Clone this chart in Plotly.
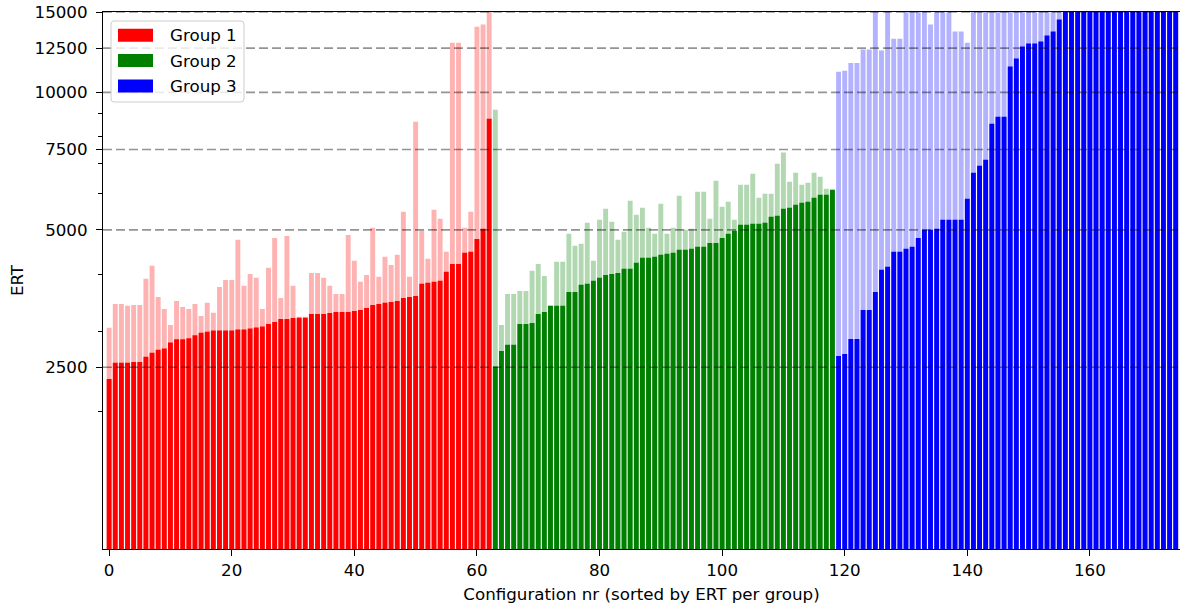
import math
import plotly.graph_objects as go

# ERT of each configuration (solid bars) and the upper spread value (pale bars),
# configurations sorted by ERT within each group.
group1_ert = [2357, 2559, 2559, 2559, 2568, 2568, 2638, 2692, 2733, 2750,
              2833, 2880, 2880, 2895, 2940, 2975, 2990, 3008, 3008, 3008,
              3008, 3026, 3026, 3040, 3055, 3070, 3110, 3140, 3190, 3190,
              3206, 3210, 3210, 3270, 3270, 3270, 3287, 3303, 3303, 3303,
              3320, 3337, 3370, 3425, 3440, 3460, 3477, 3494, 3547, 3565,
              3583, 3810, 3830, 3847, 3866, 4046, 4210, 4210, 4453, 4475,
              4777, 5025, 8758]
group1_upper = [3050, 3442, 3442, 3408, 3425, 3425, 3905, 4170, 3565, 3356,
                3095, 3494, 3390, 3356, 3442, 3240, 3460, 3290, 3750, 3885,
                3885, 4754, 3770, 4000, 3925, 3356, 4128, 4800, 3547, 4850,
                3770, 3225, 3225, 4020, 4020, 3925, 3770, 3620, 3620, 4870,
                4277, 3847, 3983, 5051, 3945, 4365, 4190, 4410, 5477, 3945,
                8627, 4975, 4320, 5532, 5287, 4475, 12853, 12853, 5051, 5477,
                13933, 14080, 16500]

group2_ert = [2510, 2715, 2800, 2800, 3110, 3110, 3125, 3272, 3305, 3408,
              3408, 3408, 3657, 3657, 3790, 3810, 3866, 3925, 3983, 4004,
              4024, 4108, 4108, 4235, 4342, 4342, 4365, 4410, 4430, 4453,
              4520, 4520, 4543, 4590, 4590, 4680, 4680, 4800, 4900, 4975,
              5130, 5130, 5155, 5155, 5180, 5340, 5368, 5560, 5587, 5672,
              5730, 5760, 5880, 5970, 5970, 6120]
group2_upper = [9165, 3095, 3620, 3620, 3675, 3675, 4066, 4210, 3964, 3408,
                4255, 4255, 4900, 4612, 4660, 5180, 4277, 5260, 5560, 5207,
                4754, 4950, 5790, 5395, 5587, 5051, 4900, 5700, 4900, 5051,
                5940, 5000, 5025, 6060, 6060, 5287, 6405, 5615, 5760, 5260,
                6280, 6280, 6635, 5880, 6000, 6000, 6980, 7390, 6370, 6670,
                6280, 6340, 6670, 6535, 6150, 6120]

group3_ert = [2648, 2675, 2885, 2885, 3339, 3339, 3657, 4087, 4150, 4475,
              4475, 4543, 4590, 4800, 5000, 5000, 5025, 5260, 5260, 5260,
              5260, 5850, 6670, 6910, 7120, 8540, 8850, 8850, 11390, 11860,
              12600, 12790, 12790, 12920, 13320, 13590, 14435, 15200, 15400, 15600,
              15900, 16200, 16500, 16900, 17300, 17800, 18300, 18900, 19600, 20400,
              21300, 22400, 23800, 25500, 27800, 31000]
group3_upper = [11100, 11160, 11600, 11600, 12410, 12410, 15800, 12350, 15900, 13115,
                13115, 16100, 16300, 16600, 16800, 14080, 17000, 17200, 17500, 13590,
                13590, 12850, 17800, 18100, 18400, 18800, 19200, 19600, 20000, 20500,
                21000, 21500, 22000, 22600, 23200, 23800, 24500, 25200, 26000, 26800,
                27600, 28500, 29400, 30400, 31400, 32500, 33600, 34800, 36000, 37300,
                38700, 40200, 41800, 43500, 45300, 47200]

group_names = ["Group 1", "Group 2", "Group 3"]
solid_colors = ["#ff0000", "#008000", "#0000ff"]
pale_colors = ["rgb(255,178,178)", "rgb(178,216,178)", "rgb(178,178,255)"]

y_major = [2500, 5000, 7500, 10000, 12500, 15000]
y_minor = [2000, 3000, 4000, 6000, 7000, 8000, 9000]
x_ticks = [0, 20, 40, 60, 80, 100, 120, 140, 160]
x_range = [-1, 174.7]

groups_ert = [group1_ert, group2_ert, group3_ert]
groups_upper = [group1_upper, group2_upper, group3_upper]

# consecutive configuration numbers across the three groups
positions = []
start = 0
for vals in groups_ert:
    positions.append(list(range(start, start + len(vals))))
    start += len(vals)

FONT = "DejaVu Sans"
FS = 16.7

fig = go.Figure()
for xs, up, c in zip(positions, groups_upper, pale_colors):
    fig.add_trace(go.Bar(x=xs, y=up, width=0.8, marker=dict(color=c, line=dict(width=0)),
                         showlegend=False, hoverinfo="x+y"))
for xs, ert, c, name in zip(positions, groups_ert, solid_colors, group_names):
    fig.add_trace(go.Bar(x=xs, y=ert, width=0.8, name=name,
                         marker=dict(color=c, line=dict(width=0)),
                         showlegend=False, hoverinfo="x+y"))

# dashed reference lines at the labelled ERT levels, drawn over the bars
for v in y_major:
    fig.add_trace(go.Scatter(x=x_range, y=[v, v], mode="lines", showlegend=False,
                             hoverinfo="skip", cliponaxis=True,
                             line=dict(color="rgba(0,0,0,0.42)", width=1.6, dash="9px,4px")))

# legend box (rounded frame, wide colour patches)
PL, PT, PW, PH = 103, 12, 1077, 537


def to_paper(px, py):
    return (px - PL) / PW, (PT + PH - py) / PH


def rounded_rect(x0, y0, x1, y1, r):
    pts = [("M", (x0 + r, y0)), ("L", (x1 - r, y0)), ("Q", (x1, y0), (x1, y0 + r)),
           ("L", (x1, y1 - r)), ("Q", (x1, y1), (x1 - r, y1)), ("L", (x0 + r, y1)),
           ("Q", (x0, y1), (x0, y1 - r)), ("L", (x0, y0 + r)), ("Q", (x0, y0), (x0 + r, y0))]
    parts = []
    for item in pts:
        cmd = item[0]
        coords = []
        for (px, py) in item[1:]:
            a, b = to_paper(px, py)
            coords.append(f"{a:.5f},{b:.5f}")
        parts.append(cmd + " ".join(coords))
    return " ".join(parts) + " Z"


shapes = [dict(type="path", xref="paper", yref="paper", layer="above",
               path=rounded_rect(111, 21, 244, 102, 3),
               fillcolor="rgba(255,255,255,0.8)", line=dict(color="#cccccc", width=1))]

annotations = []
row_centers = [35.3, 60.6, 86.0]
for name, c, cy in zip(group_names, solid_colors, row_centers):
    x0, y0 = to_paper(118, cy - 6.5)
    x1, y1 = to_paper(153, cy + 6.5)
    shapes.append(dict(type="rect", xref="paper", yref="paper", layer="above",
                       x0=x0, x1=x1, y0=y0, y1=y1, fillcolor=c, line=dict(width=0)))
    tx, ty = to_paper(168, cy)
    annotations.append(dict(text=name, xref="paper", yref="paper", x=tx, y=ty,
                            xanchor="left", yanchor="middle", showarrow=False,
                            font=dict(family=FONT, size=FS, color="black")))

fig.update_layout(
    width=1180, height=610,
    margin=dict(l=PL, r=0, t=PT, b=610 - PT - PH),
    paper_bgcolor="white", plot_bgcolor="white",
    barmode="overlay", showlegend=False,
    font=dict(family=FONT, size=FS, color="black"),
    shapes=shapes, annotations=annotations,
    xaxis=dict(range=x_range, tickvals=x_ticks, ticktext=[str(t) for t in x_ticks],
               ticks="outside", ticklen=6, tickwidth=1.1, tickcolor="black",
               showline=True, linecolor="black", linewidth=1.1, mirror=True,
               showgrid=False, zeroline=False,
               tickfont=dict(family=FONT, size=FS, color="black"),
               title=dict(text="Configuration nr (sorted by ERT per group)",
                          font=dict(family=FONT, size=FS, color="black"), standoff=9)),
    yaxis=dict(type="log", range=[3, math.log10(15000)],
               tickvals=y_major, ticktext=[str(v) for v in y_major],
               ticks="outside", ticklen=6, tickwidth=1.1, tickcolor="black",
               ticklabelstandoff=5,
               minor=dict(tickvals=y_minor, ticks="outside", ticklen=3.5,
                          tickwidth=0.9, tickcolor="black", showgrid=False),
               showline=True, linecolor="black", linewidth=1.1, mirror=False,
               showgrid=False, zeroline=False,
               tickfont=dict(family=FONT, size=FS, color="black"),
               title=dict(text="ERT", font=dict(family=FONT, size=FS, color="black"),
                          standoff=6)),
)

fig.write_html("out.html")
